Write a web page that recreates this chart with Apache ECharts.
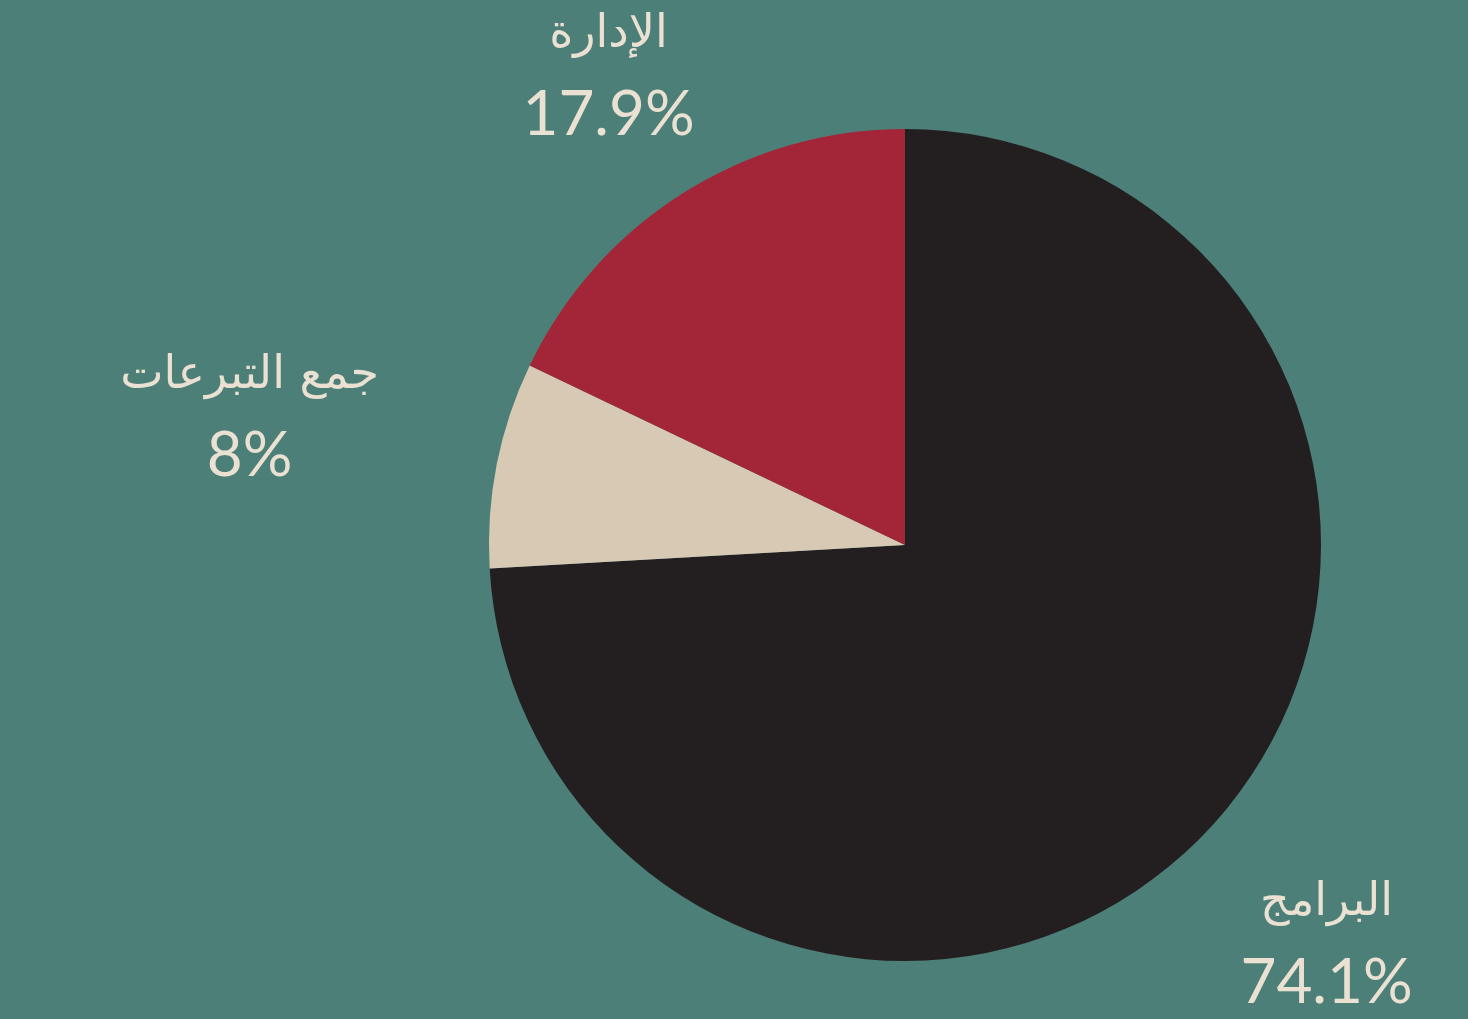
<!DOCTYPE html>
<html>
<head>
<meta charset="utf-8">
<script src="https://cdn.jsdelivr.net/npm/echarts@6/dist/echarts.min.js"></script>
<style>
  html, body { margin: 0; padding: 0; background: #4b7f77; }
  #chart { width: 1468px; height: 1019px; }
</style>
</head>
<body>
<div id="chart"></div>
<script>
  var categories = ["البرامج", "جمع التبرعات", "الإدارة"];
  var shares = [74.1, 8, 17.9];
  var sliceColors = ["#231f20", "#d8c9b4", "#a32638"];
  // how far past the rim each label centre sits
  var labelGap = [164, 252, 140];

  var chart = echarts.init(document.getElementById("chart"));

  chart.setOption({
    backgroundColor: "#4b7f77",
    animation: false,
    series: [
      {
        type: "pie",
        center: [905, 545],
        radius: 416,
        startAngle: 90,
        clockwise: true,
        data: categories.map(function (name, i) {
          return { name: name, value: shares[i], itemStyle: { color: sliceColors[i] } };
        }),
        label: {
          show: true,
          position: "outside",
          align: "center",
          formatter: function (p) {
            return "{name|" + p.name + "}\n{pct|" + p.value + "%}";
          },
          rich: {
            name: {
              fontFamily: "DejaVu Sans",
              fontSize: 46,
              lineHeight: 80,
              color: "#ebe1d3",
              align: "center"
            },
            pct: {
              fontFamily: "Lato",
              fontSize: 62,
              lineHeight: 80,
              color: "#ebe1d3",
              align: "center"
            }
          }
        },
        labelLine: { show: false, length: 20, length2: 0 },
        labelLayout: function (params) {
          var pts = params.labelLinePoints;
          if (!pts) return {};
          var dx = pts[1][0] - pts[0][0];
          var dy = pts[1][1] - pts[0][1];
          var len = Math.sqrt(dx * dx + dy * dy) || 1;
          var gap = labelGap[params.dataIndex];
          return {
            x: pts[0][0] + dx / len * gap,
            y: pts[0][1] + dy / len * gap,
            align: "center",
            verticalAlign: "middle"
          };
        }
      }
    ]
  });
</script>
</body>
</html>
